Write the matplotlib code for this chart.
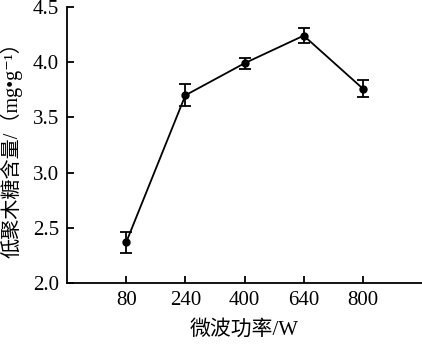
import matplotlib
matplotlib.use('Agg')
import matplotlib.pyplot as plt
import numpy as np

power = ['80', '240', '400', '640', '800']
sugar = [2.37, 3.70, 3.99, 4.24, 3.76]
err = [0.095, 0.10, 0.05, 0.07, 0.08]

plt.rcParams['font.family'] = ['Liberation Serif', 'Noto Sans CJK SC', 'DejaVu Serif']
plt.rcParams['font.size'] = 15

fig = plt.figure(figsize=(4.22, 3.46), dpi=100)
ax = fig.add_axes([0.159, 0.182, 0.841, 0.798])

x = np.arange(len(power))
ax.errorbar(x, sugar, yerr=err, color='black', marker='o', markersize=5,
            linewidth=1.3, elinewidth=1.3, capsize=4, capthick=1.3)

ax.set_xlim(-1, 5)
ax.set_ylim(2.0, 4.5)
ax.set_xticks(x)
ax.set_xticklabels(power)
ax.set_yticks([2.0, 2.5, 3.0, 3.5, 4.0, 4.5])
ax.set_yticklabels(['2.0', '2.5', '3.0', '3.5', '4.0', '4.5'])
ax.tick_params(direction='in', length=5, width=1.3, pad=6)
for s in ['top', 'right']:
    ax.spines[s].set_visible(False)
for s in ['left', 'bottom']:
    ax.spines[s].set_linewidth(1.3)

ax.set_xlabel('微波功率/W', fontsize=15, labelpad=7)
ax.set_ylabel('低聚木糖含量/（mg•g⁻¹）', fontsize=14.5)
ax.yaxis.set_label_coords(-0.125, 0.5)

fig.savefig('out.png', dpi=100)
